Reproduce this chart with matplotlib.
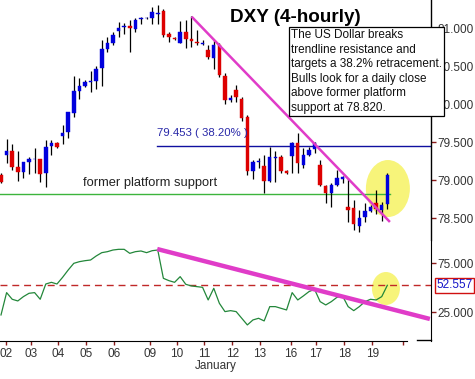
import matplotlib
matplotlib.use("Agg")
import matplotlib.pyplot as plt
from matplotlib.patches import Ellipse
from matplotlib.lines import Line2D
import numpy as np

plt.rcParams['font.family'] = ['Liberation Sans', 'DejaVu Sans']

# ---------------- data ----------------
opens = [79.068, 79.332, 79.385, 79.174, 79.108, 79.240, 79.279, 79.279, 79.095, 79.451,
         79.490, 79.583, 79.636, 79.886, 80.176, 80.242, 80.295, 80.308, 80.480, 80.731,
         80.810, 80.968, 81.021, 81.034, 80.994, 81.126, 81.140, 81.140, 81.192, 81.232,
         80.928, 80.876, 80.810, 80.955, 80.862, 80.823, 80.796, 80.717, 80.612, 80.783,
         80.374, 80.058, 80.190, 80.071, 79.833, 79.121, 79.240, 79.187, 78.989, 79.293,
         79.306, 79.121, 79.319, 79.490, 79.200, 79.332, 79.411, 79.200, 78.923, 78.831,
         78.936, 79.015, 78.646, 78.633, 78.395, 78.514, 78.593, 78.699, 78.606, 78.686]
highs = [79.095, 79.543, 79.477, 79.385, 79.240, 79.306, 79.424, 79.285, 79.530, 79.530,
         79.503, 79.728, 79.899, 80.374, 80.348, 80.322, 80.440, 80.506, 80.849, 80.889,
         80.955, 81.087, 81.074, 81.113, 81.140, 81.153, 81.153, 81.285, 81.311, 81.258,
         80.955, 80.889, 81.100, 81.113, 81.166, 80.981, 80.849, 80.783, 80.849, 80.810,
         80.414, 80.124, 80.256, 80.097, 79.860, 79.266, 79.293, 79.332, 79.438, 79.385,
         79.332, 79.134, 79.503, 79.622, 79.424, 79.438, 79.503, 79.266, 78.936, 78.963,
         79.134, 79.055, 79.029, 78.738, 78.606, 78.699, 78.672, 78.870, 78.712, 79.095]
lows = [78.963, 79.227, 79.134, 78.989, 79.029, 79.081, 79.095, 78.976, 78.910, 79.332,
        79.424, 79.477, 79.556, 79.833, 80.071, 80.229, 80.163, 80.203, 80.242, 80.691,
        80.783, 80.889, 80.928, 80.691, 80.955, 81.060, 81.126, 81.060, 81.060, 80.889,
        80.823, 80.849, 80.810, 80.744, 80.757, 80.783, 80.783, 80.599, 80.467, 80.361,
        80.005, 80.031, 80.031, 79.781, 79.068, 79.015, 79.161, 78.831, 78.976, 78.976,
        79.095, 79.081, 79.095, 79.095, 79.161, 79.319, 79.358, 78.923, 78.699, 78.646,
        78.923, 78.963, 78.448, 78.343, 78.316, 78.448, 78.580, 78.554, 78.461, 78.620]
closes = [78.976, 79.385, 79.174, 79.108, 79.240, 79.279, 79.285, 79.081, 79.438, 79.490,
          79.438, 79.622, 79.899, 80.176, 80.242, 80.295, 80.308, 80.467, 80.731, 80.810,
          80.915, 81.008, 81.034, 81.008, 81.113, 81.140, 81.145, 81.219, 81.206, 80.915,
          80.889, 80.862, 80.955, 80.862, 80.836, 80.810, 80.810, 80.625, 80.783, 80.388,
          80.058, 80.084, 80.097, 79.820, 79.121, 79.240, 79.253, 78.989, 79.306, 79.306,
          79.121, 79.095, 79.490, 79.227, 79.332, 79.398, 79.490, 78.936, 78.831, 78.936,
          79.029, 79.042, 78.606, 78.422, 78.501, 78.593, 78.646, 78.620, 78.672, 79.068]
rsi = [22.3, 45.1, 38.3, 36.6, 41.0, 44.4, 45.1, 38.3, 53.9, 55.6,
       53.9, 60.7, 68.2, 75.0, 76.7, 77.7, 78.4, 82.5, 85.9, 86.9,
       88.6, 89.3, 89.3, 85.2, 86.9, 87.6, 85.9, 87.9, 88.6, 59.7,
       57.3, 55.6, 61.4, 53.6, 51.9, 51.2, 50.5, 37.6, 49.5, 34.2,
       25.7, 26.7, 25.7, 18.9, 12.1, 17.2, 18.9, 16.2, 30.8, 30.8,
       29.1, 27.4, 45.1, 37.6, 41.7, 46.1, 48.5, 35.9, 32.5, 35.9,
       40.3, 41.7, 30.8, 26.7, 30.8, 35.9, 38.3, 37.6, 41.0, 52.557]
day_labels = ['02', '03', '04', '05', '06', '09', '10', '11', '12', '13', '16', '17', '18', '19', '']
day_pos = [0.95, 5.3, 10.2, 15.2, 20.2, 26.7, 31.4, 36.25, 41.3, 46.25, 51.8, 56.25, 61.3, 66.3, 71.8]
fib_level = 79.453
fib_label = '79.453 ( 38.20% )'
support_level = 78.820
rsi_last = 52.557
price_ticks = [78.5, 79.0, 79.5, 80.0, 80.5, 81.0]
rsi_ticks = [25, 75]
trend_main = ([34.05, 69.46], [81.157, 78.449])
trend_rsi = ([27.9, 76.6], [89.6, 18.2])

# ---------------- figure ----------------
W, H = 475, 379
fig = plt.figure(figsize=(W / 100, H / 100), dpi=100)
ax = fig.add_axes([0, 1 - 240 / H, 431 / W, 240 / H])
ax2 = fig.add_axes([0, 1 - 341 / H, 431 / W, 100 / H])

XMIN, XMAX = -0.18, 76.8
tick_col = '#8b1a1a'
lab_col = '#333333'

# main panel
x = np.arange(len(opens))
o = np.array(opens); c = np.array(closes)
hi = np.array(highs); lo = np.array(lows)
up = c >= o
cols = np.where(up, '#0000dd', '#dd0000')
ax.vlines(x, lo, hi, color='black', lw=0.9, zorder=3)
body_h = np.maximum(np.abs(c - o), 0.006)
ax.bar(x, body_h, bottom=np.minimum(o, c), width=0.62, color=cols,
       edgecolor=cols, linewidth=0.3, zorder=4)

ax.add_patch(Ellipse((69.1, 78.89), 7.86, 0.752, facecolor='#f7f47a',
                     edgecolor='none', zorder=1))
ax.axhline(support_level, xmin=0, xmax=(69.5 - XMIN) / (XMAX - XMIN),
           color='#3cb43c', lw=1.0, zorder=2)
ax.plot([27.86, XMAX], [fib_level, fib_level], color='#1010a0', lw=1.0, zorder=2)
ax.plot(trend_main[0], trend_main[1], color='#e03cc8', lw=1.8, zorder=5,
        solid_capstyle='butt')

ax.text(27.86, 79.622, fib_label, color='#2828a8', fontsize=8.2,
        ha='left', va='center', zorder=6)
ax.text(14.6, 78.963, 'former platform support', color='#222222', fontsize=9.3,
        ha='left', va='center', zorder=6)

ax.set_xlim(XMIN, XMAX)
ax.set_ylim(78.211, 81.377)
for s in ['top', 'left', 'bottom']:
    ax.spines[s].set_visible(False)
ax.spines['right'].set_color('black')
ax.spines['right'].set_linewidth(1.0)
ax.yaxis.tick_right()
ax.set_yticks(price_ticks)
ax.set_yticklabels(['%.3f' % v for v in price_ticks])
ax.tick_params(axis='y', direction='out', length=3.5, width=1, color=tick_col,
               labelsize=8.5, labelcolor=lab_col, pad=1)
ax.set_xticks([])

# lower panel
ax2.add_patch(Ellipse((68.75, 49.3), 5.0, 33.7, facecolor='#f7f47a',
                      edgecolor='none', zorder=1))
ax2.axhline(rsi_last, color='#c02828', lw=1.0, ls=(0, (5, 3.5)), zorder=2)
ax2.plot(x, rsi, color='#23873a', lw=0.9, zorder=3)
ax2.plot(trend_rsi[0], trend_rsi[1], color='#e03cc8', lw=3.2, zorder=4,
         solid_capstyle='butt')
ax2.set_xlim(XMIN, XMAX)
ax2.set_ylim(-4.3, 97.8)
ax2.spines['top'].set_visible(False)
ax2.spines['left'].set_visible(False)
ax2.spines['bottom'].set_bounds(XMIN, 72.5)
ax2.spines['bottom'].set_color('black')
ax2.spines['right'].set_color('black')
ax2.yaxis.tick_right()
ax2.set_yticks(rsi_ticks)
ax2.set_yticklabels(['%.3f' % v for v in rsi_ticks])
ax2.tick_params(axis='y', direction='out', length=3.5, width=1, color=tick_col,
                labelsize=8.5, labelcolor=lab_col, pad=1)
ax2.set_xticks(day_pos)
ax2.set_xticklabels(day_labels)
ax2.tick_params(axis='x', direction='out', length=3, width=1, color=tick_col,
                labelsize=8.5, labelcolor=lab_col, pad=2)
ax2.add_line(Line2D([417 / 431, 1.0], [0.01, 0.01], transform=ax2.transAxes,
                    color='black', lw=1.0, clip_on=False))
ax2.text(1.012, rsi_last, '%.3f' % rsi_last, transform=ax2.get_yaxis_transform(),
         color='#1414c8', fontsize=8.5, ha='left', va='center', zorder=10,
         bbox=dict(boxstyle='square,pad=0.12', facecolor='white',
                   edgecolor='#d01010', linewidth=1.0))

fig.text(216 / W, 1 - 366 / H, 'January', color=lab_col, fontsize=8.5,
         ha='center', va='center')

# title and note
fig.text(230 / W, 1 - 17.5 / H, 'DXY (4-hourly)', fontsize=13.6,
         fontweight='bold', color='black', ha='left', va='center')
note = ("The US Dollar breaks\ntrendline resistance and\ntargets a 38.2% retracement.\n"
        "Bulls look for a daily close\nabove former platform\nsupport at 78.820.")
fig.text(291 / W, 1 - 71.5 / H, note, fontsize=8.5, color='#111111', ha='left',
         va='center', linespacing=1.27, zorder=10,
         bbox=dict(boxstyle='square,pad=0.2', facecolor='white',
                   edgecolor='black', linewidth=0.9))

fig.savefig('out.png', dpi=100)
